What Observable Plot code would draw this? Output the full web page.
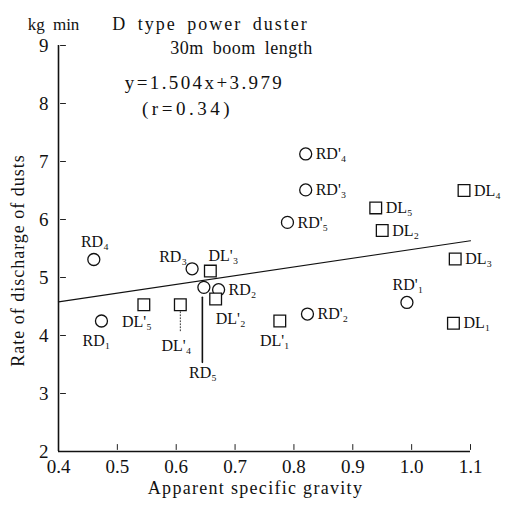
<!DOCTYPE html>
<html><head><meta charset="utf-8">
<script src="https://cdn.jsdelivr.net/npm/d3@7"></script>
<script src="https://cdn.jsdelivr.net/npm/@observablehq/plot@0.6"></script>
<style>body{margin:0;background:#fff}</style>
</head><body><div id="chart"></div>
<script>
// ---- data ----
const pointLabels = ["RD₄","RD₁","RD₃","RD₅","RD₂","RD'₄","RD'₃","RD'₅","RD'₂","RD'₁",
                     "DL'₅","DL'₄","DL'₃","DL'₂","DL'₁","DL₅","DL₂","DL₄","DL₃","DL₁"];
const gravity   = [0.460,0.473,0.627,0.647,0.672,0.820,0.820,0.789,0.823,0.992,
                   0.545,0.607,0.658,0.667,0.776,0.939,0.950,1.089,1.074,1.071];
const discharge = [5.31,4.25,5.15,4.83,4.79,7.13,6.51,5.95,4.37,4.57,
                   4.53,4.53,5.11,4.63,4.25,6.20,5.81,6.50,5.32,4.21];
const dusterKind = ["RD","RD","RD","RD","RD","RD","RD","RD","RD","RD",
                    "DL","DL","DL","DL","DL","DL","DL","DL","DL","DL"];
const labelPlace = ["above","below","upperLeft","farBelow","right","right","right","right","right","above",
                    "belowNear","dottedBelow","upperRight","belowRight","below","right","right","right","right","right"];
const slope = 1.504, intercept = 3.979;
const xTicks = [0.4,0.5,0.6,0.7,0.8,0.9,1.0,1.1];
const yTicks = [2,3,4,5,6,7,8,9];
const titleLines = ["D type power duster","30m boom length","y=1.504x+3.979","(r=0.34)"];
const unitLabel = "kg min";
const xLabel = "Apparent specific gravity";
const yLabel = "Rate of discharge of dusts";

// ---- build table ----
const placeStyle = {
  above:       {dx: 1,  dy: -18, anchor: "middle"},
  below:       {dx: -5, dy: 20,  anchor: "middle"},
  upperLeft:   {dx: -19,dy: -12, anchor: "middle"},
  upperRight:  {dx: 13, dy: -15, anchor: "middle"},
  right:       {dx: 10, dy: 0,   anchor: "start"},
  belowNear:   {dx: -7, dy: 17,  anchor: "middle"},
  belowRight:  {dx: 15, dy: 20,  anchor: "middle"},
  farBelow:    {dx: -1, dy: 86,  anchor: "middle"},
  dottedBelow: {dx: -4, dy: 41,  anchor: "middle"}
};
const pts = pointLabels.map((l,i)=>({label:l, x:gravity[i], y:discharge[i], kind:dusterKind[i], place:labelPlace[i]}));
const reg = [xTicks[0], xTicks[xTicks.length-1]].map(x=>({x, y: slope*x+intercept}));

const font = "'Liberation Serif','DejaVu Serif',serif";
const labelMarks = Object.entries(placeStyle).map(([k,s]) =>
  Plot.text(pts.filter(d=>d.place===k), {x:"x", y:"y", text:"label", dx:s.dx, dy:s.dy,
    textAnchor:s.anchor, fontSize:16, fill:"#111"}));

const stem = {draw(ctx, l){ctx.moveTo(0,0); ctx.lineTo(0,-l);}};
const x0 = xTicks[0], y0 = yTicks[0];

const chart = Plot.plot({
  width: 508, height: 508,
  marginLeft: 58, marginRight: 38, marginTop: 45, marginBottom: 57,
  style: {fontFamily: font, fontSize: "16px", background: "#fff", color: "#111"},
  x: {domain: [xTicks[0], xTicks[xTicks.length-1]]},
  y: {domain: [yTicks[0], yTicks[yTicks.length-1]]},
  marks: [
    Plot.axisX({ticks: xTicks, tickSize: 0, tickPadding: 8, tickFormat: d=>d.toFixed(1), label: null, fontSize: 19}),
    Plot.axisY({ticks: yTicks, tickSize: 0, tickPadding: 10, tickFormat: d=>String(d), label: null, fontSize: 19}),
    Plot.vector(xTicks.slice(1), {x: d=>d, y: ()=>y0, length: 5, anchor:"start", dy:-2, shape: stem, stroke:"#222", strokeWidth:1}),
    Plot.vector(yTicks.slice(1), {x: ()=>x0, y: d=>d, length: 5, rotate: 90, anchor:"start", dx:2, shape: stem, stroke:"#222", strokeWidth:1}),
    Plot.ruleX([x0], {y1: y0, y2: yTicks[yTicks.length-1], strokeWidth: 1.6}),
    Plot.ruleY([y0], {x1: x0, x2: xTicks[xTicks.length-1], strokeWidth: 1.6}),
    Plot.line(reg, {x:"x", y:"y", stroke:"#111", strokeWidth: 1.2}),
    Plot.vector(pts.filter(d=>d.place==="farBelow"), {x:"x", y:"y", length: 65, rotate: 180, anchor:"start", dx:-1.5, dy:10, shape: stem, stroke:"#111", strokeWidth:1.6}),
    Plot.vector(pts.filter(d=>d.place==="dottedBelow"), {x:"x", y:"y", length: 20, rotate: 180, anchor:"start", dy:7, shape: stem, stroke:"#333", strokeWidth:1, strokeDasharray:"1,2"}),
    Plot.dot(pts.filter(d=>d.kind==="RD"), {x:"x", y:"y", r: 6, symbol:"circle", fill:"#fff", stroke:"#111", strokeWidth:1.3}),
    Plot.dot(pts.filter(d=>d.kind==="DL"), {x:"x", y:"y", r: 6.6, symbol:"square", fill:"#fff", stroke:"#111", strokeWidth:1.3}),
    ...labelMarks,
    Plot.text([unitLabel], {frameAnchor:"top-left", dx:-5, dy:-28, fontSize:17, textAnchor:"middle"}),
    Plot.text([titleLines[0]], {frameAnchor:"top-left", dx:152, dy:-28, fontSize:18, textAnchor:"middle"}),
    Plot.text([titleLines[1]], {frameAnchor:"top-left", dx:183, dy:-4, fontSize:18, textAnchor:"middle"}),
    Plot.text([titleLines[2]], {frameAnchor:"top-left", dx:146, dy:30, fontSize:19, textAnchor:"middle"}),
    Plot.text([titleLines[3]], {frameAnchor:"top-left", dx:129, dy:56, fontSize:19, textAnchor:"middle"}),
    Plot.text([xLabel], {frameAnchor:"bottom", dx:-9, dy:42, fontSize:18, textAnchor:"middle"}),
    Plot.text([yLabel], {frameAnchor:"left", dx:-40, dy:12, rotate:-90, fontSize:18, textAnchor:"middle"})
  ]
});
// letter spacing for the typeset-looking captions
const spacing = new Map([
  [unitLabel, ["0px","4px"]],
  [titleLines[0], ["2px","4px"]],
  [titleLines[1], ["0.5px","4px"]],
  [titleLines[2], ["2.4px","0px"]],
  [titleLines[3], ["3.5px","0px"]],
  [xLabel, ["1.3px","0px"]],
  [yLabel, ["1px","0px"]]
]);
d3.select(chart).selectAll("text").each(function(){
  const s = spacing.get(this.textContent);
  if (s) { this.style.letterSpacing = s[0]; this.style.wordSpacing = s[1]; }
});
document.getElementById("chart").append(chart);
</script>
</body></html>
